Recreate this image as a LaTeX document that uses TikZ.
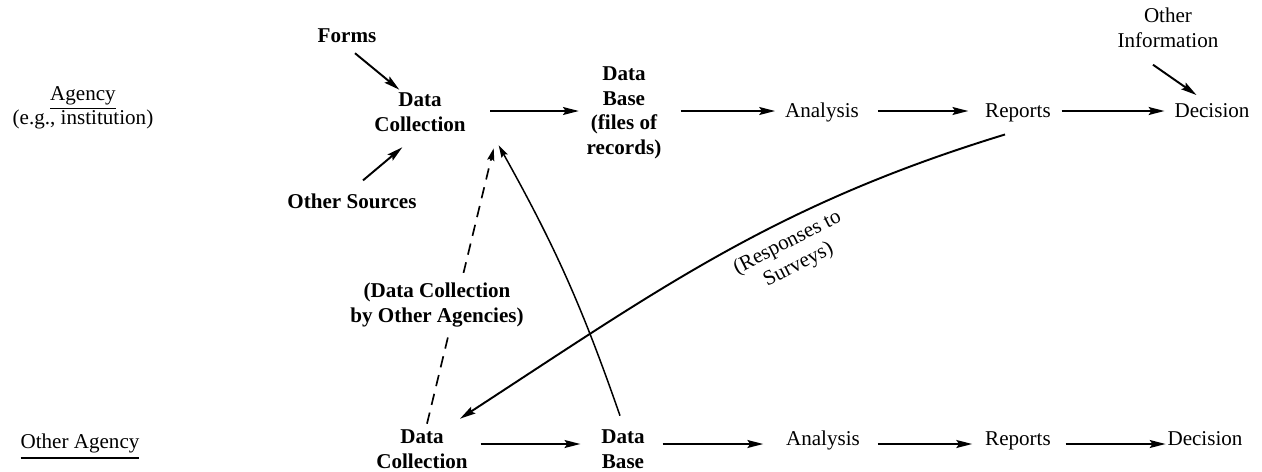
\documentclass[tikz,border=0pt]{standalone}
\usepackage{fontspec}
\setmainfont{Liberation Serif}
\usetikzlibrary{arrows.meta,calc}
\newcommand{\myul}[2]{\setbox0\hbox{#2}\rlap{\smash{\raisebox{-#1}{\rule{\wd0}{0.9pt}}}}\box0}
\begin{document}
\begin{tikzpicture}[x=0.02cm,y=-0.02cm,
  lbl/.style={inner sep=0pt, outer sep=0pt, align=center, font=\fontsize{12}{14}\selectfont},
  blbl/.style={lbl, font=\fontsize{12}{14}\selectfont\bfseries},
  arr/.style={line width=1.1pt, -{Stealth[length=9pt,width=4.5pt,inset=1.5pt]}},
  thinarr/.style={line width=0.85pt, -{Stealth[length=7pt,width=4pt,inset=1pt]}},
  dasharr/.style={thinarr, line width=0.95pt, dash pattern=on 6.5pt off 4.5pt},
]
\path[fill=white, use as bounding box] (0,0) rectangle (1262,471);
\coordinate (row1) at (0,111);
\coordinate (row2) at (0,444);

% top row
\node[lbl] (agency) at (83,108) {\myul{5pt}{Agency}\\(e.g., institution)};
\node[blbl, anchor=base] (forms) at (347,42) {Forms};
\node[blbl] (dc1) at (420,112) {Data\\Collection};
\node[blbl, anchor=base] (os) at (352,208) {Other Sources};
\node[blbl] (db1) at (624,113) {Data\\Base\\(files of\\records)};
\node[lbl, anchor=base] (an1) at (822,117) {Analysis};
\node[lbl, anchor=base] (rep1) at (1018,117) {Reports};
\node[lbl, anchor=base] (dec1) at (1212,117) {Decision};
\node[lbl] (oi) at (1168,28) {Other\\Information};

% bottom row
\node[lbl, anchor=base] (oa) at (80,448) {\myul{6pt}{Other Agency}};
\node[blbl] (dc2) at (422,449) {Data\\Collection};
\node[blbl] (db2) at (623,449) {Data\\Base};
\node[lbl, anchor=base] (an2) at (823,445) {Analysis};
\node[lbl, anchor=base] (rep2) at (1018,445) {Reports};
\node[lbl, anchor=base] (dec2) at (1205,445) {Decision};

% row arrows
\draw[arr, shorten <=14pt, shorten >=4.5pt] (dc1.east |- row1) -- (db1.west |- row1);
\draw[arr, shorten <=11pt, shorten >=5.7pt] (db1.east |- row1) -- (an1.west |- row1);
\draw[arr, shorten <=10.8pt, shorten >=9.6pt] (an1.east |- row1) -- (rep1.west |- row1);
\draw[arr, shorten <=6.2pt, shorten >=5.7pt] (rep1.east |- row1) -- (dec1.west |- row1);

\draw[arr, shorten <=7.4pt, shorten >=11.9pt] (dc2.east |- row2) -- (db2.west |- row2);
\draw[arr, shorten <=10.2pt, shorten >=13pt] (db2.east |- row2) -- (an2.west |- row2);
\draw[arr, shorten <=10.2pt, shorten >=7.4pt] (an2.east |- row2) -- (rep2.west |- row2);
\draw[arr, shorten <=8.5pt, shorten >=1.1pt] (rep2.east |- row2) -- (dec2.west |- row2);

% inputs
\draw[arr] ($(forms.south)+(8,11)$) -- ($(dc1.north west)+(25,-3)$);
\draw[arr] ($(os.north)+(11,-13)$) -- ($(dc1.south west)+(28,16)$);
\draw[arr] ($(oi.south)+(-15,17)$) -- ($(dec1.north west)+(22,-8)$);

% cross links
\draw[thinarr] ($(db2.north)+(-3,-14)$) to[bend right=5] ($(dc1.south east)+(33,14)$);
\draw[dasharr] ($(dc2.north)+(5,-6)$) -- ($(dc1.south east)+(28,17)$);
\draw[arr] ($(rep1.south)+(-13,13)$) .. controls +(-229,70) and +(201,-131) .. ($(dc2.north)+(38,-11)$);

\node[blbl, fill=white, inner xsep=2pt, inner ysep=6pt] (dcoa) at (437,305) {(Data Collection\\by Other Agencies)};
\node[lbl, rotate=27] (resp) at (793,254) {(Responses to\\Surveys)};
\end{tikzpicture}
\end{document}
